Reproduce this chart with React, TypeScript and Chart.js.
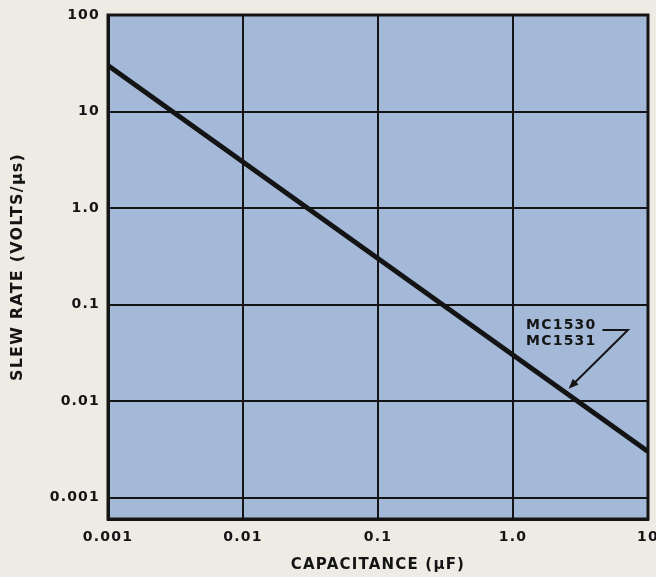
import React, { useEffect, useRef } from "react";
import { Chart, registerables } from "chart.js";

Chart.register(...registerables);

// ---- data ----
const capacitanceUF = [0.001, 10];
const slewRateVus = [30, 0.003];
const xTickValues = [0.001, 0.01, 0.1, 1, 10];
const xTickLabels = ["0.001", "0.01", "0.1", "1.0", "10"];
const yTickValues = [0.001, 0.01, 0.1, 1, 10, 100];
const yTickLabels = ["0.001", "0.01", "0.1", "1.0", "10", "100"];
const seriesNames = ["MC1530", "MC1531"];
const xTitle = "CAPACITANCE (\u00B5F)";
const yTitle = "SLEW RATE (VOLTS/\u00B5s)";

const INK = "#141414";
const PAPER = "#eeebe5";
const PLOT = "#a4b9d8";
const FONT = "'DejaVu Sans', sans-serif";

function labelFor(values: number[], labels: string[], v: number) {
  const i = values.findIndex((t) => Math.abs(Math.log10(t) - Math.log10(v)) < 1e-6);
  return i >= 0 ? labels[i] : "";
}

// log-space interpolation along the series
function seriesAt(c: number) {
  const lx0 = Math.log10(capacitanceUF[0]);
  const lx1 = Math.log10(capacitanceUF[1]);
  const ly0 = Math.log10(slewRateVus[0]);
  const ly1 = Math.log10(slewRateVus[1]);
  const t = (Math.log10(c) - lx0) / (lx1 - lx0);
  return Math.pow(10, ly0 + t * (ly1 - ly0));
}

const paperPlugin = {
  id: "paper",
  beforeDraw(chart: any) {
    const { ctx, chartArea } = chart;
    ctx.save();
    ctx.fillStyle = PAPER;
    ctx.fillRect(0, 0, chart.width, chart.height);
    ctx.fillStyle = PLOT;
    ctx.fillRect(chartArea.left, chartArea.top, chartArea.right - chartArea.left, chartArea.bottom - chartArea.top);
    ctx.restore();
    (ctx as any).letterSpacing = "1.2px";
  },
  afterDraw(chart: any) {
    (chart.ctx as any).letterSpacing = "0px";
  },
};

const framePlugin = {
  id: "frame",
  afterDatasetsDraw(chart: any) {
    const { ctx, chartArea } = chart;
    ctx.save();
    ctx.strokeStyle = INK;
    ctx.lineWidth = 3;
    ctx.strokeRect(chartArea.left, chartArea.top, chartArea.right - chartArea.left, chartArea.bottom - chartArea.top);
    ctx.restore();
  },
};

const calloutPlugin = {
  id: "callout",
  afterDatasetsDraw(chart: any) {
    const { ctx } = chart;
    const xs = chart.scales.x;
    const ys = chart.scales.y;
    const textC = 1.25;
    const textV = 0.072;
    const elbowC = 7.1;
    const elbowV = 0.0545;
    const tipC = 2.43;
    const tx = xs.getPixelForValue(textC);
    const ty = ys.getPixelForValue(textV);
    ctx.save();
    (ctx as any).letterSpacing = "1.2px";
    ctx.font = `bold 14px ${FONT}`;
    ctx.fillStyle = INK;
    ctx.textAlign = "left";
    ctx.textBaseline = "top";
    seriesNames.forEach((s, i) => ctx.fillText(s, tx, ty + i * 16));
    const w = ctx.measureText(seriesNames[0]).width;
    const ex = xs.getPixelForValue(elbowC);
    const ey = ys.getPixelForValue(elbowV);
    const lx = xs.getPixelForValue(tipC);
    const ly = ys.getPixelForValue(seriesAt(tipC));
    const dx = lx - ex;
    const dy = ly - ey;
    const len = Math.hypot(dx, dy);
    const ux = dx / len;
    const uy = dy / len;
    const tipX = lx - ux * 5;
    const tipY = ly - uy * 5;
    ctx.strokeStyle = INK;
    ctx.lineWidth = 2;
    ctx.beginPath();
    ctx.moveTo(tx + w + 6, ey);
    ctx.lineTo(ex, ey);
    ctx.lineTo(tipX - ux * 6, tipY - uy * 6);
    ctx.stroke();
    // arrow head
    const ah = 10;
    const aw = 4;
    ctx.beginPath();
    ctx.moveTo(tipX, tipY);
    ctx.lineTo(tipX - ux * ah - uy * aw, tipY - uy * ah + ux * aw);
    ctx.lineTo(tipX - ux * ah + uy * aw, tipY - uy * ah - ux * aw);
    ctx.closePath();
    ctx.fill();
    ctx.restore();
  },
};

export default function App() {
  const ref = useRef<HTMLCanvasElement | null>(null);

  useEffect(() => {
    if (!ref.current) return;
    const chart = new Chart(ref.current, {
      type: "line",
      data: {
        datasets: [
          {
            label: seriesNames.join(" / "),
            data: capacitanceUF.map((c, i) => ({ x: c, y: slewRateVus[i] })),
            borderColor: INK,
            borderWidth: 5,
            pointRadius: 0,
            tension: 0,
            fill: false,
          },
        ],
      },
      options: {
        responsive: false,
        animation: false,
        devicePixelRatio: 1,
        layout: { autoPadding: false, padding: { top: 15, right: 8, left: 0, bottom: 0 } },
        plugins: { legend: { display: false }, tooltip: { enabled: false } },
        scales: {
          x: {
            type: "logarithmic",
            min: 0.001,
            max: 10,
            afterFit: (s: any) => {
              s.height = 58;
              s.paddingLeft = 0;
              s.paddingRight = 0;
            },
            afterBuildTicks: (s: any) => {
              s.ticks = xTickValues.map((v) => ({ value: v }));
            },
            grid: { color: INK, lineWidth: 2, drawTicks: false },
            border: { display: true, color: INK, width: 3 },
            ticks: {
              color: INK,
              padding: 10,
              autoSkip: false,
              maxRotation: 0,
              font: { family: FONT, weight: "bold", size: 14 },
              callback: (v: any) => labelFor(xTickValues, xTickLabels, Number(v)),
            },
            title: {
              display: true,
              text: xTitle,
              color: INK,
              font: { family: FONT, weight: "bold", size: 15 },
              padding: { top: 0, bottom: 3 },
            },
          },
          y: {
            type: "logarithmic",
            min: 0.00062,
            max: 100,
            afterFit: (s: any) => {
              s.width = 108;
              s.paddingTop = 0;
              s.paddingBottom = 0;
            },
            afterBuildTicks: (s: any) => {
              s.ticks = yTickValues.map((v) => ({ value: v }));
            },
            grid: { color: INK, lineWidth: 2, drawTicks: false },
            border: { display: true, color: INK, width: 3 },
            ticks: {
              color: INK,
              padding: 8,
              autoSkip: false,
              font: { family: FONT, weight: "bold", size: 14 },
              callback: (v: any) => labelFor(yTickValues, yTickLabels, Number(v)),
            },
            title: {
              display: true,
              text: yTitle,
              color: INK,
              font: { family: FONT, weight: "bold", size: 16 },
              padding: { top: 8, bottom: 0 },
            },
          },
        },
      },
      plugins: [paperPlugin, framePlugin, calloutPlugin],
    } as any);
    return () => chart.destroy();
  }, []);

  return (
    <div style={{ position: "absolute", left: 0, top: 0, width: 656, height: 577, background: PAPER }}>
      <canvas ref={ref} width={656} height={577} style={{ display: "block", width: 656, height: 577 }} />
    </div>
  );
}
